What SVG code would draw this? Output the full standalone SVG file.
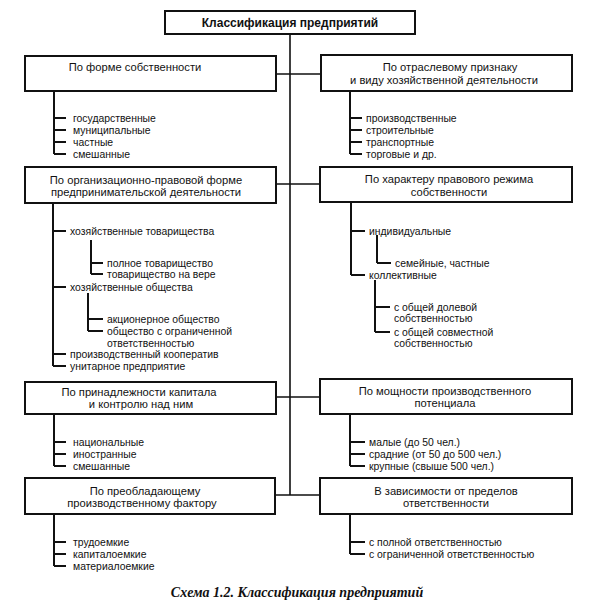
<svg xmlns="http://www.w3.org/2000/svg" width="597" height="613" viewBox="0 0 597 613">
<style>
.box{fill:#fff;stroke:#111;stroke-width:2}
.ln{fill:none;stroke:#111;stroke-width:2}
.sp{fill:none;stroke:#111;stroke-width:1.6}
text{font-family:"Liberation Sans",Arial,sans-serif;fill:#111}
.h{font-size:11.2px;text-anchor:middle}
.t{font-size:10.4px}
.title{font-size:12px;font-weight:bold;text-anchor:middle}
.cap{font-family:"Liberation Serif","Times New Roman",serif;font-size:14px;font-weight:bold;font-style:italic;text-anchor:middle}
</style>
<rect width="597" height="613" fill="#fff"/>
<g id="connectors">
<path class="sp" d="M290,34 V495 M276,74 H290 M290,74 H321 M276,184 H290 M290,184 H320 M276,397 H320 M275,495 H320"/>
<path class="ln" d="M54,91 V154 M54,118 H66 M54,130 H66 M54,142 H66 M54,154 H66"/>
<path class="ln" d="M350,91 V154 M350,118 H362 M350,130 H362 M350,142 H362 M350,154 H362"/>
<path class="ln" d="M53,203 V366 M53,231 H66 M53,287 H66 M53,354 H66 M53,366 H66"/>
<path class="ln" d="M91,240 V274 M91,263 H103 M91,274 H103"/>
<path class="ln" d="M88,293 V331 M88,319 H103 M88,331 H103"/>
<path class="ln" d="M351,202 V275 M351,231 H365 M351,275 H365"/>
<path class="ln" d="M377,235 V263 M377,263 H391"/>
<path class="ln" d="M375,280 V332 M375,307 H390 M375,332 H390"/>
<path class="ln" d="M54,414 V466 M54,442 H66 M54,454 H66 M54,466 H66"/>
<path class="ln" d="M350,414 V466 M350,442 H365 M350,454 H365 M350,466 H365"/>
<path class="ln" d="M54,514 V566 M54,542 H66 M54,554 H66 M54,566 H66"/>
<path class="ln" d="M350,514 V554 M350,542 H365 M350,554 H365"/>
</g>
<g id="title"><rect class="box" x="165" y="11" width="250" height="23"/><text class="title" x="290" y="27">Классификация предприятий</text></g>
<g id="n1"><rect class="box" x="25" y="56" width="251" height="35"/><text class="h" x="135" y="71">По форме собственности</text>
<text class="t" x="73" y="121.5">государственные</text><text class="t" x="73" y="133.5">муниципальные</text><text class="t" x="73" y="145.5">частные</text><text class="t" x="73" y="157.5">смешанные</text></g>
<g id="n2"><rect class="box" x="321" y="55" width="251" height="36"/><text class="h" x="450" y="71">По отраслевому признаку</text><text class="h" x="444" y="84">и виду хозяйственной деятельности</text>
<text class="t" x="366" y="121.5">производственные</text><text class="t" x="366" y="133.5">строительные</text><text class="t" x="366" y="145.5">транспортные</text><text class="t" x="366" y="157.5">торговые и др.</text></g>
<g id="n3"><rect class="box" x="25" y="167" width="251" height="36"/><text class="h" x="146" y="184">По организационно-правовой форме</text><text class="h" x="146" y="196">предпринимательской деятельности</text>
<text class="t" x="70" y="234.5">хозяйственные товарищества</text>
<text class="t" x="107" y="266.5">полное товарищество</text><text class="t" x="107" y="277.5">товарищество на вере</text>
<text class="t" x="70" y="290.5">хозяйственные общества</text>
<text class="t" x="107" y="322.5">акционерное общество</text><text class="t" x="107" y="334.5">общество с ограниченной</text><text class="t" x="107" y="346.5">ответственностью</text>
<text class="t" x="70" y="357.5">производственный кооператив</text><text class="t" x="70" y="369.5">унитарное предприятие</text></g>
<g id="n4"><rect class="box" x="320" y="167" width="252" height="35"/><text class="h" x="449" y="183">По характеру правового режима</text><text class="h" x="449" y="196">собственности</text>
<text class="t" x="369" y="234.5">индивидуальные</text><text class="t" x="395" y="266.5">семейные, частные</text><text class="t" x="369" y="278.5">коллективные</text>
<text class="t" x="394" y="310.5">с общей долевой</text><text class="t" x="394" y="321.5">собственностью</text><text class="t" x="394" y="335.5">с общей  совместной</text><text class="t" x="394" y="346.5">собственностью</text></g>
<g id="n5"><rect class="box" x="25" y="382" width="251" height="32"/><text class="h" x="139" y="396">По принадлежности капитала</text><text class="h" x="141" y="408">и контролю над ним</text>
<text class="t" x="73" y="445.5">национальные</text><text class="t" x="73" y="457.5">иностранные</text><text class="t" x="73" y="469.5">смешанные</text></g>
<g id="n6"><rect class="box" x="320" y="379" width="252" height="35"/><text class="h" x="445" y="395">По мощности производственного</text><text class="h" x="445" y="407">потенциала</text>
<text class="t" x="369" y="445.5">малые (до 50 чел.)</text><text class="t" x="369" y="457.5">срадние (от 50 до 500 чел.)</text><text class="t" x="369" y="469.5">крупные (свыше 500 чел.)</text></g>
<g id="n7"><rect class="box" x="25" y="478" width="250" height="36"/><text class="h" x="145" y="495">По преобладающему</text><text class="h" x="142" y="507">производственному фактору</text>
<text class="t" x="73" y="545.5">трудоемкие</text><text class="t" x="73" y="557.5">капиталоемкие</text><text class="t" x="73" y="569.5">материалоемкие</text></g>
<g id="n8"><rect class="box" x="320" y="478" width="252" height="36"/><text class="h" x="446" y="495">В зависимости от пределов</text><text class="h" x="446" y="507">ответственности</text>
<text class="t" x="369" y="545.5">с полной ответственностью</text><text class="t" x="369" y="557.5">с ограниченной ответственностью</text></g>
<text class="cap" x="297" y="597">Схема 1.2. Классификация предприятий</text>
</svg>
